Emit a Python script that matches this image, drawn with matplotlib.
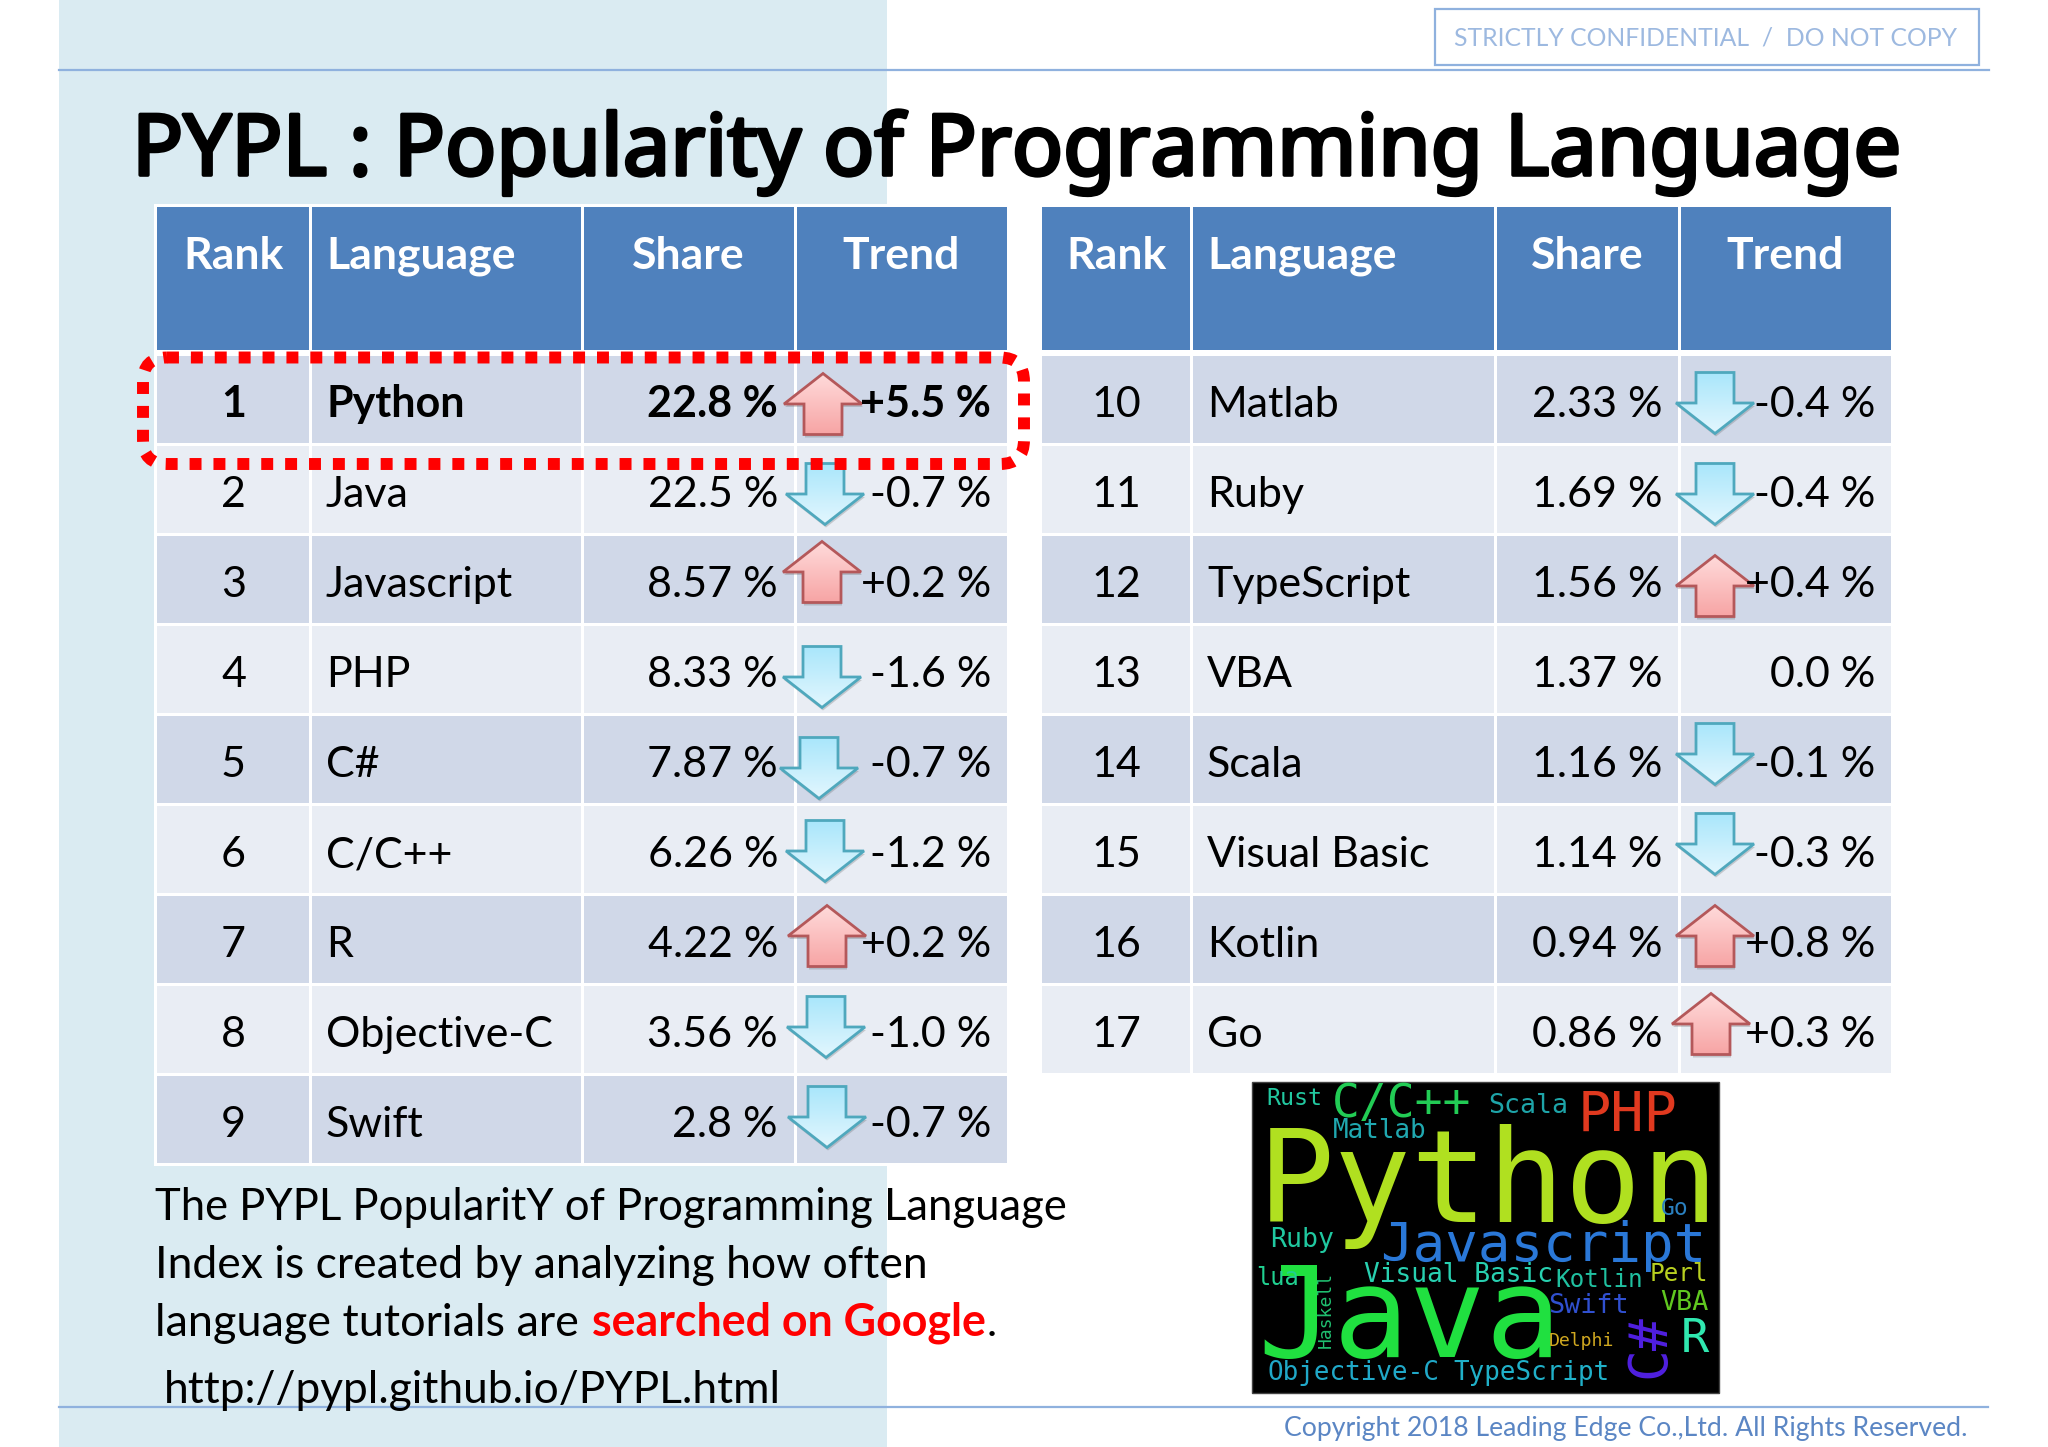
import numpy as np
import matplotlib
matplotlib.use("Agg")
import matplotlib.pyplot as plt
import matplotlib.patheffects as pe
from matplotlib.font_manager import FontProperties
from matplotlib.patches import Rectangle, Polygon, FancyBboxPatch
from matplotlib.textpath import TextPath

plt.rcParams['font.family'] = ['Lato', 'DejaVu Sans']

# table values
headers = ["Rank", "Language", "Share", "Trend"]
ranks = list(range(1, 18))
languages = ["Python", "Java", "Javascript", "PHP", "C#", "C/C++", "R", "Objective-C", "Swift",
             "Matlab", "Ruby", "TypeScript", "VBA", "Scala", "Visual Basic", "Kotlin", "Go"]
shares = [22.8, 22.5, 8.57, 8.33, 7.87, 6.26, 4.22, 3.56, 2.8,
          2.33, 1.69, 1.56, 1.37, 1.16, 1.14, 0.94, 0.86]
trends = [5.5, -0.7, 0.2, -1.6, -0.7, -1.2, 0.2, -1.0, -0.7,
          -0.4, -0.4, 0.4, 0.0, -0.1, -0.3, 0.8, 0.3]

# hand placed arrows, one per row (center x, center y in pixels)
arrow_x = [823, 825, 822, 822, 819, 825, 827, 826, 827,
           1715, 1715, 1715, 0, 1715, 1715, 1715, 1711]
arrow_y = [404, 494, 572, 677, 768, 851, 936, 1027, 1117,
           403, 494, 586, 0, 754, 844, 936, 1024]

# word cloud
cloud_words = ["Rust", "C/C++", "Scala", "PHP", "Matlab", "Python", "Go", "Ruby", "Javascript",
               "Visual Basic", "Kotlin", "Perl", "Java", "lua", "Swift", "VBA", "Delphi", "R",
               "Objective-C", "TypeScript", "Haskell", "C#"]
cloud_colors = ["#22c8a0", "#22cc55", "#1ea4a8", "#e0391f", "#20a8b0", "#b0e020", "#2a80c0", "#20c8a0", "#2a78d8",
                "#28d0b0", "#20c0a0", "#b8d020", "#20e040", "#20d090", "#3050d0", "#60c820", "#d0a820", "#30e8b0",
                "#20a8c8", "#20b0c8", "#20c070", "#5020e0"]
# left, top, width (pixels in the picture), last two words are turned 90 degrees
cloud_boxes = [(1268, 1088, 52), (1335, 1083, 134), (1490, 1093, 76), (1583, 1090, 92), (1334, 1118, 91),
               (1270, 1125, 438), (1662, 1198, 25), (1272, 1227, 61), (1383, 1220, 318),
               (1365, 1262, 187), (1557, 1268, 84), (1652, 1262, 54), (1264, 1265, 287), (1258, 1267, 39),
               (1550, 1293, 76), (1661, 1291, 47), (1550, 1332, 63), (1684, 1318, 25),
               (1269, 1360, 169), (1454, 1360, 153), (1315, 1275, 16), (1622, 1318, 42)]
cloud_heights = [0] * 20 + [73, 60]

W, H = 2048, 1447
fig = plt.figure(figsize=(W / 100, H / 100), dpi=100)
ax = fig.add_axes([0, 0, 1, 1])
ax.set_xlim(0, W)
ax.set_ylim(H, 0)
ax.axis('off')


def put_fit(s, x, y, width, color='black', weight='normal', family='Lato', zorder=6):
    # font size picked so s comes out width pixels wide, starting at x
    fp = FontProperties(family=family, weight=weight)
    ext = TextPath((0, 0), s, size=100, prop=fp).get_extents()
    size = 100 * width / ext.width * 0.997
    return ax.text(x, y, s, fontsize=size * 0.72, color=color, weight=weight,
                   family=family, ha='left', va='baseline', zorder=zorder)


def draw_arrow(cx, cy, up):
    hw, sw, hh = 39, 19, 30.5
    pts = [(0, -hh), (hw, 0), (sw, 0), (sw, hh), (-sw, hh), (-sw, 0), (-hw, 0)]
    if up:
        pts = [(cx + a, cy + b) for a, b in pts]
        cols = ('#ffdcdc', '#f7a3a3')
        edge = '#b4585a'
    else:
        pts = [(cx + a, cy - b) for a, b in pts]
        cols = ('#a8e6fb', '#e4f7fe')
        edge = '#4fa8bd'
    ax.add_patch(Polygon([(a + 1, b + 3) for a, b in pts], fc='#555555', ec='none', alpha=0.25, zorder=3))
    c0 = np.array(matplotlib.colors.to_rgb(cols[0]))
    c1 = np.array(matplotlib.colors.to_rgb(cols[1]))
    grad = np.linspace(0, 1, 64)[:, None, None] * (c1 - c0) + c0
    im = ax.imshow(grad, extent=(cx - 40, cx + 40, cy + 32, cy - 32), aspect='auto', zorder=3.1)
    clip = Polygon(pts, fc='none', ec=edge, lw=2, zorder=3.2)
    ax.add_patch(clip)
    im.set_clip_path(clip)


# page decoration
ax.add_patch(Rectangle((59, 0), 828, H, fc='#daebf2', ec='none', zorder=0))
ax.plot([59, 1989], [70, 70], color='#8fb1de', lw=1.6, zorder=1)
ax.plot([59, 1988], [1407, 1407], color='#8fb1de', lw=1.6, zorder=1)
ax.add_patch(Rectangle((1435, 9), 544, 56, fc='white', ec='#8fb1de', lw=1.6, zorder=1))
put_fit("STRICTLY CONFIDENTIAL  /  DO NOT COPY", 1454, 46, 503, color='#9db9e0')
# Noto Sans only has the regular cut here, so thicken it with a stroke
title = put_fit("PYPL : Popularity of Programming Language", 132, 175, 1762, family='Noto Sans')
title.set_path_effects([pe.withStroke(linewidth=2.6, foreground='black')])
put_fit("Copyright 2018 Leading Edge Co.,Ltd. All Rights Reserved.", 1284, 1436, 681, color='#5b86c4')


def draw_table(col_x, first, last, bottom, name_x, share_right, trend_right):
    # white backing and header
    ax.add_patch(Rectangle((col_x[0] - 3, 204), col_x[-1] - col_x[0] + 3, bottom - 204 + 3, fc='white', ec='none', zorder=1))
    for j in range(4):
        x0 = col_x[j] + (1.5 if j > 0 else 0)
        x1 = col_x[j + 1] - (1.5 if j < 3 else 0)
        ax.add_patch(Rectangle((x0, 207), x1 - x0, 143, fc='#4f81bd', ec='none', zorder=2))
        cx = name_x if j == 1 else (col_x[j] + col_x[j + 1]) / 2
        ax.text(cx, 269, headers[j], fontsize=32, weight='bold', color='white',
                ha='left' if j == 1 else 'center', va='baseline', zorder=6)
    for i in range(first, last):
        k = i - first
        y0 = 356 + 90 * k
        y1 = 442.5 + 90 * k
        fc = '#d0d8e8' if k % 2 == 0 else '#e9edf4'
        for j in range(4):
            x0 = col_x[j] + (1.5 if j > 0 else 0)
            x1 = col_x[j + 1] - (1.5 if j < 3 else 0)
            ax.add_patch(Rectangle((x0, y0), x1 - x0, y1 - y0, fc=fc, ec='none', zorder=2))
        base = 417 + 90 * k
        weight = 'bold' if i == 0 else 'normal'
        ax.text((col_x[0] + col_x[1]) / 2, base, str(ranks[i]), fontsize=BODY, weight=weight, ha='center', va='baseline', zorder=6)
        ax.text(name_x, base, languages[i], fontsize=BODY, weight=weight, ha='left', va='baseline', zorder=6)
        ax.text(share_right, base, f"{shares[i]} %", fontsize=BODY, weight=weight, ha='right', va='baseline', zorder=6)
        t = f"{trends[i]:.1f} %" if trends[i] == 0 else f"{trends[i]:+.1f} %"
        ax.text(trend_right, base, t, fontsize=BODY, weight=weight, ha='right', va='baseline', zorder=6)
        if trends[i] != 0:
            draw_arrow(arrow_x[i], arrow_y[i], trends[i] > 0)


BODY = 31
draw_table([157, 310, 582, 795, 1007], 0, 9, 1163, 326, 778, 991)
draw_table([1042, 1191, 1495, 1679, 1891], 9, 17, 1073, 1207, 1662, 1875)

# red dotted highlight on first row
ax.add_patch(FancyBboxPatch((143, 357.5), 881, 106.5, boxstyle='round,pad=0,rounding_size=24',
                            fc='none', ec='#ff0000', lw=8.6, linestyle=(0, (1, 1)), capstyle='butt',
                            mutation_aspect=1, zorder=5))

# description text
put_fit("The PYPL PopularitY of Programming Language", 155, 1220, 911)
put_fit("Index is created by analyzing how often", 155, 1278, 768)
put_fit("language tutorials are", 155, 1336, 421)
put_fit("searched on Google", 592, 1336, 393, color='#ff0000', weight='bold')
ax.text(987, 1336, ".", fontsize=31, ha='left', va='baseline', zorder=6)
put_fit("http://pypl.github.io/PYPL.html", 164, 1403, 613)

# word cloud picture
ax.add_patch(Rectangle((1252, 1082), 467, 311, fc='black', ec='#444444', lw=1, zorder=1))
mono = FontProperties(family='DejaVu Sans Mono')
for w, c, box, h in zip(cloud_words, cloud_colors, cloud_boxes, cloud_heights):
    x, y, width = box
    ext = TextPath((0, 0), w, size=100, prop=mono).get_extents()
    if h:
        # turned words: fit the length to the height, anchored at the lower end
        size = h / ext.width * 100
        ax.text(x + width, y + h, w, fontproperties=mono, fontsize=size * 0.72, color=c, rotation=90,
                rotation_mode='anchor', ha='left', va='baseline', zorder=2)
    else:
        size = width / ext.width * 100
        ax.text(x - ext.x0 * size / 100, y + ext.y1 * size / 100, w, fontproperties=mono,
                fontsize=size * 0.72, color=c, ha='left', va='baseline', zorder=2)

fig.savefig('out.png', dpi=100)
